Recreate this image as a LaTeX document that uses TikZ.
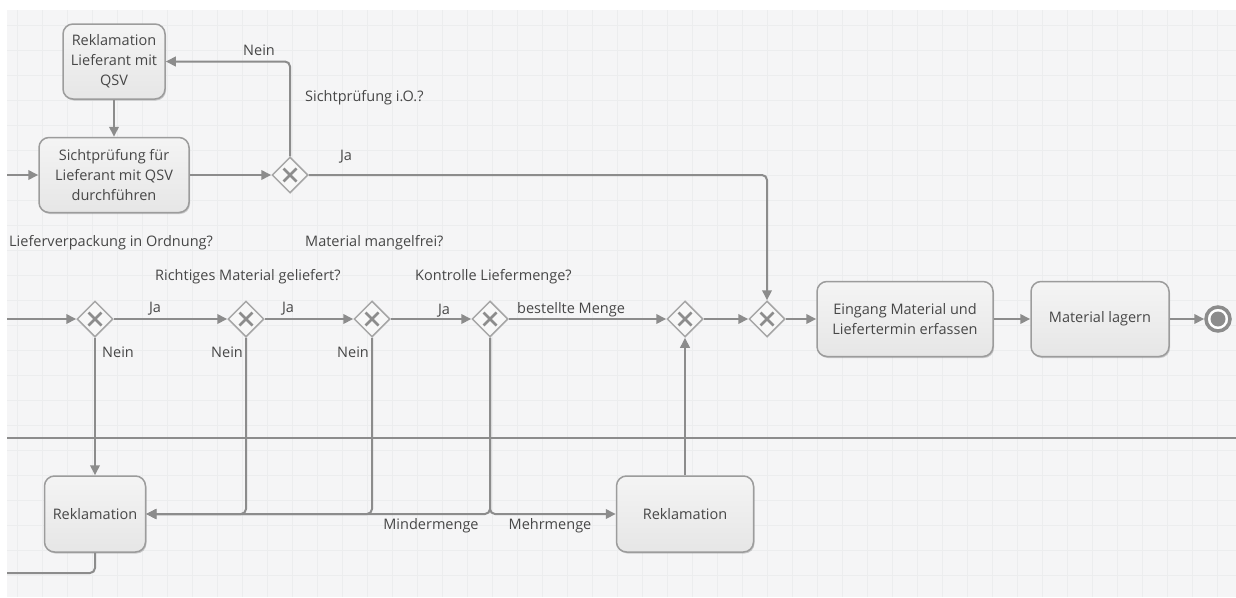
\documentclass[tikz,border=0pt]{standalone}
\usepackage{fontspec}
\setmainfont{Open Sans}
\usetikzlibrary{arrows.meta,shapes.geometric,shadows}

\definecolor{bgc}{HTML}{F5F5F6}
\definecolor{gridc}{HTML}{ECEDEE}
\definecolor{linec}{HTML}{8C8C8C}
\definecolor{boxborder}{HTML}{9C9C9C}
\definecolor{boxtop}{HTML}{F4F4F4}
\definecolor{boxbot}{HTML}{E6E6E6}
\definecolor{gwborder}{HTML}{A6A6A6}
\definecolor{gwfill}{HTML}{F7F7F7}
\definecolor{txtc}{HTML}{474747}

\tikzset{
  task/.style={rectangle, rounded corners=10pt, draw=boxborder, line width=1.5pt,
    top color=boxtop, bottom color=boxbot, align=center, inner sep=2pt,
    text=txtc, font=\fontsize{14.5}{20}\selectfont,
    drop shadow={shadow xshift=1pt, shadow yshift=-1.5pt, opacity=0.18, fill=black}},
  gw/.style={diamond, draw=gwborder, fill=gwfill, line width=1.5pt,
    minimum width=36pt, minimum height=36pt, inner sep=0pt,
    path picture={
      \draw[linec, line width=2.6pt]
        ([shift={(-6.5pt,-6.5pt)}]path picture bounding box.center) --
        ([shift={(6.5pt,6.5pt)}]path picture bounding box.center);
      \draw[linec, line width=2.6pt]
        ([shift={(-6.5pt,6.5pt)}]path picture bounding box.center) --
        ([shift={(6.5pt,-6.5pt)}]path picture bounding box.center);
    }},
  endevt/.style={circle, draw=linec, line width=3.5pt, fill=white,
    minimum size=24pt, inner sep=0pt,
    path picture={\fill[linec] (path picture bounding box.center) circle (7.5pt);}},
  flow/.style={draw=linec, line width=2pt, rounded corners=5pt,
    -{Triangle[length=10pt,width=9.5pt]}},
  plainflow/.style={draw=linec, line width=2pt, rounded corners=5pt},
  lbl/.style={text=txtc, font=\fontsize{14.5}{17}\selectfont, inner sep=0pt},
}

\begin{document}
\begin{tikzpicture}[x=1pt, y=-1pt]
  % canvas and grid
  \useasboundingbox (0,0) rectangle (1236,597);
  \fill[white] (0,0) rectangle (1236,597);
  \fill[bgc] (7,10) rectangle (1236,597);
  \foreach \x in {17.5,42.5,...,1236} \draw[gridc, line width=1pt] (\x,10) -- (\x,597);
  \foreach \y in {25,50,...,590} \draw[gridc, line width=1pt] (7,\y) -- (1236,\y);

  % lane separator
  \draw[linec, line width=2pt] (7,438) -- (1236,438);

  % tasks
  \node[task, minimum width=102pt, minimum height=75pt] (rq) at (114,61.5) {Reklamation\\Lieferant mit\\QSV};
  \node[task, minimum width=150pt, minimum height=75pt] (sp) at (114,175) {Sichtprüfung für\\Lieferant mit QSV\\durchführen};
  \node[task, minimum width=176pt, minimum height=75pt] (ein) at (905,319) {Eingang Material und\\Liefertermin erfassen};
  \node[task, minimum width=138pt, minimum height=75pt] (lag) at (1100,319) {Material lagern};
  \node[task, minimum width=101pt, minimum height=76pt] (rkA) at (95,514) {Reklamation};
  \node[task, minimum width=137pt, minimum height=76pt] (rkB) at (685,514) {Reklamation};

  % gateways
  \node[gw] (g0) at (290,175) {};
  \node[gw] (g1) at (95,319) {};
  \node[gw] (g2) at (246,319) {};
  \node[gw] (g3) at (372,319) {};
  \node[gw] (g4) at (490,319) {};
  \node[gw] (g5) at (685,319) {};
  \node[gw] (g6) at (767,319) {};

  % end event
  \node[endevt] (end) at (1218,319) {};

  % loose ends at the left border
  \coordinate (inA) at (7,175);
  \coordinate (inB) at (7,319);
  \coordinate (outA) at (7,573);

  % upper part
  \draw[flow] (inA) -- (sp.west);
  \draw[flow] (rq) -- (sp);
  \draw[flow] (sp) -- (g0);
  \draw[flow] (g0.north) |- (rq.east);
  \draw[flow] (g0.east) -| (g6.north);

  % main row
  \draw[flow] (inB) -- (g1.west);
  \draw[flow] (g1) -- (g2);
  \draw[flow] (g2) -- (g3);
  \draw[flow] (g3) -- (g4);
  \draw[flow] (g4) -- (g5);
  \draw[flow] (g5) -- (g6);
  \draw[flow] (g6) -- (ein);
  \draw[flow] (ein) -- (lag);
  \draw[flow] (lag) -- (end);

  % complaint branches
  \draw[flow] (g1.south) -- (rkA.north);
  \draw[flow] (g2.south) |- (rkA.east);
  \draw[flow] (g3.south) |- (rkA.east);
  \draw[flow] (g4.south) |- (rkA.east);
  \draw[flow] (g4.south) |- (rkB.west);
  \draw[flow] (rkB.north) -- (g5.south);
  \draw[plainflow] (rkA.south) |- (outA);

  % labels
  \node[lbl] at (259,50) {Nein};
  \node[lbl, anchor=west] at (305,98) {Sichtprüfung i.O.?};
  \node[lbl] at (346,157) {Ja};
  \node[lbl, anchor=west] at (9,243) {Lieferverpackung in Ordnung?};
  \node[lbl, anchor=west] at (305,243) {Material mangelfrei?};
  \node[lbl, anchor=west] at (155,277) {Richtiges Material geliefert?};
  \node[lbl, anchor=west] at (415,277) {Kontrolle Liefermenge?};
  \node[lbl] at (155,309) {Ja};
  \node[lbl] at (288,309) {Ja};
  \node[lbl] at (444,311) {Ja};
  \node[lbl, anchor=west] at (517,310) {bestellte Menge};
  \node[lbl] at (118,352) {Nein};
  \node[lbl] at (227,352) {Nein};
  \node[lbl] at (353,352) {Nein};
  \node[lbl] at (431,526) {Mindermenge};
  \node[lbl] at (550,526) {Mehrmenge};
\end{tikzpicture}
\end{document}
